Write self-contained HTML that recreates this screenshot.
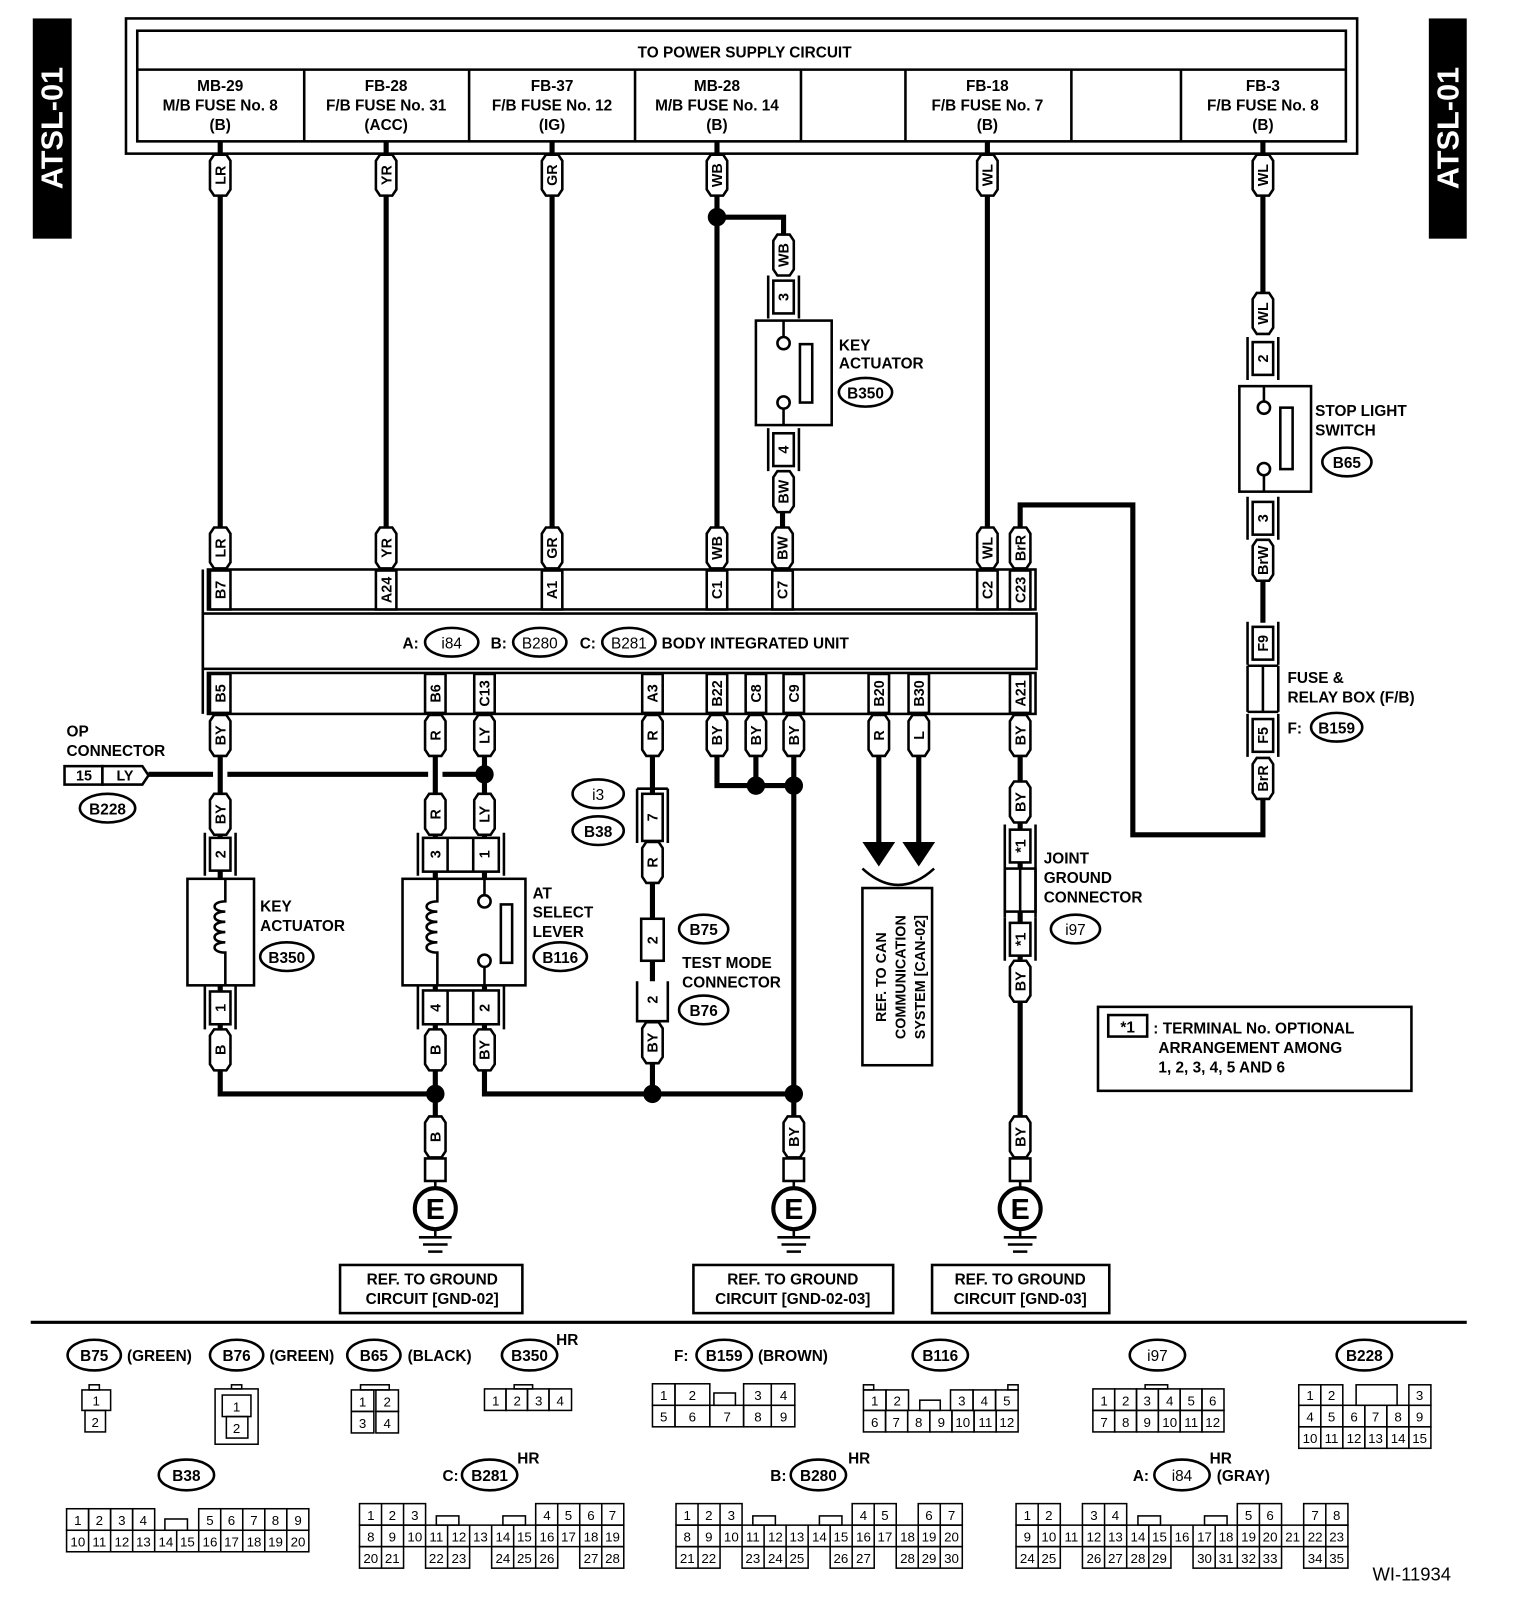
<!DOCTYPE html>
<html><head><meta charset="utf-8"><style>
html,body{margin:0;padding:0;background:#fff}
svg{display:block}
text{font-family:"Liberation Sans",Arial,sans-serif;fill:#000}
.b{font-weight:bold;font-size:15px}
.r{font-weight:bold;font-size:14px;text-anchor:middle}
.c{font-size:13px;text-anchor:middle}
.m{text-anchor:middle}
.w{fill:none;stroke:#000;stroke-width:5}
.k{fill:none;stroke:#000;stroke-width:2.5}
.k[fill="#fff"]{fill:#fff}
.g rect{fill:none;stroke:#000;stroke-width:1.5}
</style></head><body>
<svg width="1520" height="1604" viewBox="0 0 1484 1566" preserveAspectRatio="none" xmlns="http://www.w3.org/2000/svg">
<defs>
<symbol id="pl" overflow="visible"><path d="M-10,-14 L-6,-20 H6 L10,-14 V14 L6,20 H-6 L-10,14Z" fill="#fff" stroke="#000" stroke-width="2.5"/></symbol>
<symbol id="cn" overflow="visible"><rect x="-10" y="-16" width="20" height="32" fill="#fff" stroke="#000" stroke-width="2.5"/><path d="M-15,-21V21M15,-21V21" stroke="#000" stroke-width="2.5"/></symbol>
<symbol id="pin" overflow="visible"><rect x="-10" y="-19" width="20" height="38" fill="#fff" stroke="#000" stroke-width="2.5"/></symbol>
</defs>

<!-- ATSL tabs -->
<rect x="32" y="18" width="38" height="215" fill="#000"/>
<text transform="translate(61,125) rotate(-90)" class="m" style="font-size:30px;fill:#fff;font-weight:bold">ATSL-01</text>
<rect x="1395" y="18" width="37" height="215" fill="#000"/>
<text transform="translate(1424,125) rotate(-90)" class="m" style="font-size:30px;fill:#fff;font-weight:bold">ATSL-01</text>

<!-- power supply box -->
<rect x="123" y="18" width="1202" height="132" class="k" stroke-width="3"/>
<rect x="134" y="30" width="1180" height="108" class="k"/>
<line x1="134" y1="68" x2="1314" y2="68" class="k"/>
<path d="M297,68V138M458,68V138M620,68V138M782,68V138M884,68V138M1046,68V138M1153,68V138" class="k"/>
<text x="727" y="56" class="b m">TO POWER SUPPLY CIRCUIT</text>
<g class="b m" style="text-anchor:middle">
<text x="215" y="89">MB-29</text><text x="215" y="108">M/B FUSE No. 8</text><text x="215" y="127">(B)</text>
<text x="377" y="89">FB-28</text><text x="377" y="108">F/B FUSE No. 31</text><text x="377" y="127">(ACC)</text>
<text x="539" y="89">FB-37</text><text x="539" y="108">F/B FUSE No. 12</text><text x="539" y="127">(IG)</text>
<text x="700" y="89">MB-28</text><text x="700" y="108">M/B FUSE No. 14</text><text x="700" y="127">(B)</text>
<text x="964" y="89">FB-18</text><text x="964" y="108">F/B FUSE No. 7</text><text x="964" y="127">(B)</text>
<text x="1233" y="89">FB-3</text><text x="1233" y="108">F/B FUSE No. 8</text><text x="1233" y="127">(B)</text>
</g>

<!-- top wires -->
<path class="w" d="M215,138V515M377,138V515M539,138V515M700,138V515M964,138V515M1233,138V286"/>
<path class="w" d="M700,212H765V228"/>
<path class="w" d="M764,500V515"/>
<path class="w" d="M996,515V493H1106V815H1233V780"/>
<path class="w" d="M1233,568V608"/>
<circle cx="700" cy="212" r="9"/>

<!-- top pills -->
<use href="#pl" x="215" y="171"/><use href="#pl" x="377" y="171"/><use href="#pl" x="539" y="171"/><use href="#pl" x="700" y="171"/><use href="#pl" x="964" y="171"/><use href="#pl" x="1233" y="171"/>
<g class="r">
<text transform="translate(220,171) rotate(-90)">LR</text>
<text transform="translate(382,171) rotate(-90)">YR</text>
<text transform="translate(544,171) rotate(-90)">GR</text>
<text transform="translate(705,171) rotate(-90)">WB</text>
<text transform="translate(969,171) rotate(-90)">WL</text>
<text transform="translate(1238,171) rotate(-90)">WL</text>
</g>

<!-- key actuator B350 top -->
<use href="#pl" x="765" y="249"/><text transform="translate(770,249) rotate(-90)" class="r">WB</text>
<use href="#cn" x="765" y="290"/><text transform="translate(770,290) rotate(-90)" class="r">3</text>
<rect x="738" y="313" width="74" height="102" class="k"/>
<path d="M765,313V329M765,399V415" class="k"/>
<circle cx="765" cy="335" r="6" class="k" fill="#fff"/><circle cx="765" cy="393" r="6" class="k" fill="#fff"/>
<rect x="781" y="336" width="12" height="57" class="k"/>
<text x="819" y="342" class="b">KEY</text><text x="819" y="360" class="b">ACTUATOR</text>
<ellipse cx="845" cy="383" rx="26" ry="14" class="k"/><text x="845" y="389" class="b m">B350</text>
<use href="#cn" x="765" y="439"/><text transform="translate(770,439) rotate(-90)" class="r">4</text>
<use href="#pl" x="765" y="480"/><text transform="translate(770,480) rotate(-90)" class="r">BW</text>

<!-- stop light switch -->
<use href="#pl" x="1233" y="306"/><text transform="translate(1238,306) rotate(-90)" class="r">WL</text>
<use href="#cn" x="1233" y="350"/><text transform="translate(1238,350) rotate(-90)" class="r">2</text>
<rect x="1210" y="377" width="70" height="103" class="k"/>
<path d="M1234,377V392M1234,464V480" class="k"/>
<circle cx="1234" cy="398" r="6" class="k" fill="#fff"/><circle cx="1234" cy="458" r="6" class="k" fill="#fff"/>
<rect x="1250" y="398" width="12" height="60" class="k"/>
<text x="1284" y="406" class="b">STOP LIGHT</text><text x="1284" y="425" class="b">SWITCH</text>
<ellipse cx="1315" cy="451" rx="24" ry="14" class="k"/><text x="1315" y="457" class="b m">B65</text>
<use href="#cn" x="1233" y="506"/><text transform="translate(1238,506) rotate(-90)" class="r">3</text>
<use href="#pl" x="1233" y="547"/><text transform="translate(1238,547) rotate(-90)" class="r">BrW</text>

<!-- fuse & relay box -->
<use href="#cn" x="1233" y="628"/><text transform="translate(1238,628) rotate(-90)" class="r">F9</text>
<path d="M1218,650V695M1248,650V695M1233,650V695M1218,650H1248M1218,695H1248" class="k"/>
<use href="#cn" x="1233" y="718"/><text transform="translate(1238,718) rotate(-90)" class="r">F5</text>
<use href="#pl" x="1233" y="760"/><text transform="translate(1238,760) rotate(-90)" class="r">BrR</text>
<text x="1257" y="667" class="b">FUSE &amp;</text><text x="1257" y="686" class="b">RELAY BOX (F/B)</text>
<text x="1257" y="716" class="b">F:</text>
<ellipse cx="1305" cy="710" rx="25" ry="14" class="k"/><text x="1305" y="716" class="b m">B159</text>

<!-- body integrated unit -->
<rect x="203" y="556" width="808" height="39" class="k"/>
<rect x="198" y="599" width="814" height="54" class="k"/>
<rect x="203" y="657" width="808" height="40" class="k"/>
<path d="M198,556V697" class="k"/>
<g>
<use href="#pin" x="215" y="576"/><use href="#pin" x="377" y="576"/><use href="#pin" x="539" y="576"/><use href="#pin" x="700" y="576"/><use href="#pin" x="764" y="576"/><use href="#pin" x="964" y="576"/><use href="#pin" x="996" y="576"/>
<use href="#pin" x="215" y="677"/><use href="#pin" x="425" y="677"/><use href="#pin" x="473" y="677"/><use href="#pin" x="637" y="677"/><use href="#pin" x="700" y="677"/><use href="#pin" x="738" y="677"/><use href="#pin" x="775" y="677"/><use href="#pin" x="858" y="677"/><use href="#pin" x="897" y="677"/><use href="#pin" x="996" y="677"/>
</g>
<g class="r">
<text transform="translate(220,576) rotate(-90)">B7</text>
<text transform="translate(382,576) rotate(-90)">A24</text>
<text transform="translate(544,576) rotate(-90)">A1</text>
<text transform="translate(705,576) rotate(-90)">C1</text>
<text transform="translate(769,576) rotate(-90)">C7</text>
<text transform="translate(969,576) rotate(-90)">C2</text>
<text transform="translate(1001,576) rotate(-90)">C23</text>
<text transform="translate(220,677) rotate(-90)">B5</text>
<text transform="translate(430,677) rotate(-90)">B6</text>
<text transform="translate(478,677) rotate(-90)">C13</text>
<text transform="translate(642,677) rotate(-90)">A3</text>
<text transform="translate(705,677) rotate(-90)">B22</text>
<text transform="translate(743,677) rotate(-90)">C8</text>
<text transform="translate(780,677) rotate(-90)">C9</text>
<text transform="translate(863,677) rotate(-90)">B20</text>
<text transform="translate(902,677) rotate(-90)">B30</text>
<text transform="translate(1001,677) rotate(-90)">A21</text>
</g>
<!-- upper lower pills -->
<use href="#pl" x="215" y="535"/><use href="#pl" x="377" y="535"/><use href="#pl" x="539" y="535"/><use href="#pl" x="700" y="535"/><use href="#pl" x="764" y="535"/><use href="#pl" x="964" y="535"/><use href="#pl" x="996" y="535"/>
<g class="r">
<text transform="translate(220,535) rotate(-90)">LR</text>
<text transform="translate(382,535) rotate(-90)">YR</text>
<text transform="translate(544,535) rotate(-90)">GR</text>
<text transform="translate(705,535) rotate(-90)">WB</text>
<text transform="translate(769,535) rotate(-90)">BW</text>
<text transform="translate(969,535) rotate(-90)">WL</text>
<text transform="translate(1001,535) rotate(-90)">BrR</text>
</g>
<text x="393" y="633" class="b">A:</text>
<ellipse cx="441" cy="627" rx="26" ry="14" class="k"/><text x="441" y="633" class="b m" style="font-weight:normal">i84</text>
<text x="479" y="633" class="b">B:</text>
<ellipse cx="527" cy="627" rx="26" ry="14" class="k"/><text x="527" y="633" class="b m" style="font-weight:normal">B280</text>
<text x="566" y="633" class="b">C:</text>
<ellipse cx="614" cy="627" rx="26" ry="14" class="k"/><text x="614" y="633" class="b m" style="font-weight:normal">B281</text>
<text x="646" y="633" class="b">BODY INTEGRATED UNIT</text>

<!-- lower wiring -->
<path class="w" d="M215,738V1068H425M425,738V1090M473,738V1068H775M637,738V1068M700,738V767H775M738,738V767M775,738V1090M858,738V825M897,738V825M996,738V1090"/>
<path class="w" d="M145,756H208M222,756H418M432,756H473"/>
<circle cx="473" cy="756" r="9"/><circle cx="738" cy="767" r="9"/><circle cx="775" cy="767" r="9"/>
<circle cx="425" cy="1068" r="9"/><circle cx="637" cy="1068" r="9"/><circle cx="775" cy="1068" r="9"/>

<!-- OP connector -->
<rect x="63" y="748" width="37" height="18" fill="#fff" class="k"/><text x="82" y="762" class="b m" style="font-size:14px">15</text>
<path d="M100,748H139L145,757L139,766H100Z" fill="#fff" class="k"/><text x="122" y="762" class="b m" style="font-size:14px">LY</text>
<text x="65" y="719" class="b">OP</text><text x="65" y="738" class="b">CONNECTOR</text>
<ellipse cx="105" cy="789" rx="27" ry="14" class="k"/><text x="105" y="795" class="b m">B228</text>

<!-- lower pills row 718 -->
<use href="#pl" x="215" y="718"/><use href="#pl" x="425" y="718"/><use href="#pl" x="473" y="718"/><use href="#pl" x="637" y="718"/><use href="#pl" x="700" y="718"/><use href="#pl" x="738" y="718"/><use href="#pl" x="775" y="718"/><use href="#pl" x="858" y="718"/><use href="#pl" x="897" y="718"/><use href="#pl" x="996" y="718"/>
<g class="r">
<text transform="translate(220,718) rotate(-90)">BY</text>
<text transform="translate(430,718) rotate(-90)">R</text>
<text transform="translate(478,718) rotate(-90)">LY</text>
<text transform="translate(642,718) rotate(-90)">R</text>
<text transform="translate(705,718) rotate(-90)">BY</text>
<text transform="translate(743,718) rotate(-90)">BY</text>
<text transform="translate(780,718) rotate(-90)">BY</text>
<text transform="translate(863,718) rotate(-90)">R</text>
<text transform="translate(902,718) rotate(-90)">L</text>
<text transform="translate(1001,718) rotate(-90)">BY</text>
</g>

<!-- key actuator B350 lower -->
<use href="#pl" x="215" y="795"/><text transform="translate(220,795) rotate(-90)" class="r">BY</text>
<use href="#cn" x="215" y="834"/><text transform="translate(220,834) rotate(-90)" class="r">2</text>
<rect x="183" y="858" width="65" height="104" fill="#fff" class="k"/>
<path d="M220,858V880 c-14,0 -14,10 0,10 c-14,0 -14,10 0,10 c-14,0 -14,10 0,10 c-14,0 -14,10 0,10 c-14,0 -14,10 0,10 V962" class="k"/>
<text x="254" y="890" class="b">KEY</text><text x="254" y="909" class="b">ACTUATOR</text>
<ellipse cx="280" cy="934" rx="26" ry="14" class="k"/><text x="280" y="940" class="b m">B350</text>
<use href="#cn" x="215" y="984"/><text transform="translate(220,984) rotate(-90)" class="r">1</text>
<use href="#pl" x="215" y="1025"/><text transform="translate(220,1025) rotate(-90)" class="r">B</text>

<!-- AT select lever -->
<use href="#pl" x="425" y="795"/><text transform="translate(430,795) rotate(-90)" class="r">R</text>
<use href="#pl" x="473" y="795"/><text transform="translate(478,795) rotate(-90)" class="r">LY</text>
<rect x="413" y="818" width="74" height="33" fill="#fff" class="k"/><path d="M437,818V851M462,818V851M408,813V855M492,813V855" class="k"/>
<text transform="translate(430,834) rotate(-90)" class="r">3</text><text transform="translate(478,834) rotate(-90)" class="r">1</text>
<rect x="393" y="858" width="120" height="104" fill="#fff" class="k"/>
<path d="M427,858V880 c-14,0 -14,10 0,10 c-14,0 -14,10 0,10 c-14,0 -14,10 0,10 c-14,0 -14,10 0,10 c-14,0 -14,10 0,10 V962" class="k"/>
<path d="M473,858V874M473,944V962" class="k"/>
<circle cx="473" cy="880" r="6" class="k" fill="#fff"/><circle cx="473" cy="938" r="6" class="k" fill="#fff"/>
<rect x="489" y="883" width="11" height="57" class="k"/>
<text x="520" y="877" class="b">AT</text><text x="520" y="896" class="b">SELECT</text><text x="520" y="915" class="b">LEVER</text>
<ellipse cx="547" cy="934" rx="26" ry="14" class="k"/><text x="547" y="940" class="b m">B116</text>
<rect x="413" y="967" width="74" height="33" fill="#fff" class="k"/><path d="M437,967V1000M462,967V1000M408,963V1005M492,963V1005" class="k"/>
<text transform="translate(430,984) rotate(-90)" class="r">4</text><text transform="translate(478,984) rotate(-90)" class="r">2</text>
<use href="#pl" x="425" y="1025"/><text transform="translate(430,1025) rotate(-90)" class="r">B</text>
<use href="#pl" x="473" y="1025"/><text transform="translate(478,1025) rotate(-90)" class="r">BY</text>

<!-- test mode connector -->
<path d="M622,770V823M652,770V823M622,770H652" class="k"/>
<rect x="627" y="775" width="20" height="46" fill="#fff" class="k"/><text transform="translate(642,798) rotate(-90)" class="r">7</text>
<use href="#pl" x="637" y="842"/><text transform="translate(642,842) rotate(-90)" class="r">R</text>
<ellipse cx="584" cy="775" rx="25" ry="14" class="k"/><text x="584" y="781" class="b m" style="font-weight:normal">i3</text>
<ellipse cx="584" cy="811" rx="25" ry="14" class="k"/><text x="584" y="817" class="b m">B38</text>
<rect x="626" y="897" width="22" height="41" fill="#fff" class="k"/><text transform="translate(642,918) rotate(-90)" class="r">2</text>
<path d="M622,958V997H652V958" fill="#fff" class="k"/><text transform="translate(642,976) rotate(-90)" class="r">2</text>
<use href="#pl" x="637" y="1018"/><text transform="translate(642,1018) rotate(-90)" class="r">BY</text>
<ellipse cx="687" cy="907" rx="24" ry="14" class="k"/><text x="687" y="913" class="b m">B75</text>
<text x="666" y="945" class="b">TEST MODE</text><text x="666" y="964" class="b">CONNECTOR</text>
<ellipse cx="687" cy="986" rx="24" ry="14" class="k"/><text x="687" y="992" class="b m">B76</text>

<!-- CAN -->
<path d="M842,822H874L858,846ZM881,822H913L897,846Z"/>
<path d="M842,848 Q877,880 912,848" class="k"/>
<rect x="842" y="867" width="68" height="173" class="k"/>
<g class="b" style="font-size:14px;text-anchor:middle">
<text transform="translate(865,954) rotate(-90)">REF. TO CAN</text>
<text transform="translate(884,954) rotate(-90)">COMMUNICATION</text>
<text transform="translate(903,954) rotate(-90)">SYSTEM [CAN-02]</text>
</g>

<!-- joint ground connector -->
<use href="#pl" x="996" y="783"/><text transform="translate(1001,783) rotate(-90)" class="r">BY</text>
<use href="#cn" x="996" y="826"/><text transform="translate(1001,826) rotate(-90)" class="r">*1</text>
<rect x="981" y="848" width="30" height="42" fill="#fff" class="k"/>
<path d="M981,848V896M1011,848V896M996,848V890" class="k"/>
<use href="#cn" x="996" y="917"/><text transform="translate(1001,917) rotate(-90)" class="r">*1</text>
<use href="#pl" x="996" y="958"/><text transform="translate(1001,958) rotate(-90)" class="r">BY</text>
<text x="1019" y="843" class="b">JOINT</text><text x="1019" y="862" class="b">GROUND</text><text x="1019" y="881" class="b">CONNECTOR</text>
<ellipse cx="1050" cy="907" rx="24" ry="14" class="k"/><text x="1050" y="913" class="b m" style="font-weight:normal">i97</text>

<!-- note -->
<rect x="1072" y="983" width="306" height="82" class="k"/>
<rect x="1082" y="991" width="38" height="21" class="k"/><text x="1101" y="1008" class="b m">*1</text>
<text x="1126" y="1009" class="b">: TERMINAL No. OPTIONAL</text>
<text x="1131" y="1028" class="b">ARRANGEMENT AMONG</text>
<text x="1131" y="1047" class="b">1, 2, 3, 4, 5 AND 6</text>

<!-- grounds -->
<g>
<use href="#pl" x="425" y="1110"/><use href="#pl" x="775" y="1110"/><use href="#pl" x="996" y="1110"/>
<text transform="translate(430,1110) rotate(-90)" class="r">B</text>
<text transform="translate(780,1110) rotate(-90)" class="r">BY</text>
<text transform="translate(1001,1110) rotate(-90)" class="r">BY</text>
<rect x="415" y="1131" width="20" height="22" class="k" fill="#fff"/><rect x="765" y="1131" width="20" height="22" class="k" fill="#fff"/><rect x="986" y="1131" width="20" height="22" class="k" fill="#fff"/>
<path d="M425,1153V1160M775,1153V1160M996,1153V1160" class="k"/>
<circle cx="425" cy="1180" r="20" fill="#fff" stroke="#000" stroke-width="4"/>
<circle cx="775" cy="1180" r="20" fill="#fff" stroke="#000" stroke-width="4"/>
<circle cx="996" cy="1180" r="20" fill="#fff" stroke="#000" stroke-width="4"/>
<text x="425" y="1190" class="m" style="font-size:28px;font-weight:bold">E</text>
<text x="775" y="1190" class="m" style="font-size:28px;font-weight:bold">E</text>
<text x="996" y="1190" class="m" style="font-size:28px;font-weight:bold">E</text>
<path d="M425,1200V1208M409,1208H441M413,1215H437M418,1222H432 M775,1200V1208M759,1208H791M763,1215H787M768,1222H782 M996,1200V1208M980,1208H1012M984,1215H1008M989,1222H1003" class="k"/>
</g>
<rect x="332" y="1235" width="178" height="47" class="k"/>
<text x="422" y="1254" class="b m">REF. TO GROUND</text><text x="422" y="1273" class="b m">CIRCUIT [GND-02]</text>
<rect x="677" y="1235" width="195" height="47" class="k"/>
<text x="774" y="1254" class="b m">REF. TO GROUND</text><text x="774" y="1273" class="b m">CIRCUIT [GND-02-03]</text>
<rect x="910" y="1235" width="173" height="47" class="k"/>
<text x="996" y="1254" class="b m">REF. TO GROUND</text><text x="996" y="1273" class="b m">CIRCUIT [GND-03]</text>

<line x1="30" y1="1291" x2="1432" y2="1291" stroke="#000" stroke-width="3"/>

<!-- connector labels -->
<g class="k">
<ellipse cx="92" cy="1323" rx="26" ry="15"/><ellipse cx="231" cy="1323" rx="26" ry="15"/><ellipse cx="365" cy="1323" rx="26" ry="15"/><ellipse cx="517" cy="1323" rx="27" ry="15"/><ellipse cx="707" cy="1323" rx="27" ry="15"/><ellipse cx="918" cy="1323" rx="27" ry="15"/><ellipse cx="1130" cy="1323" rx="27" ry="15"/><ellipse cx="1332" cy="1323" rx="27" ry="15"/>
<ellipse cx="182" cy="1440" rx="27" ry="15"/><ellipse cx="478" cy="1440" rx="27" ry="15"/><ellipse cx="799" cy="1440" rx="27" ry="15"/><ellipse cx="1154" cy="1440" rx="27" ry="15"/>
</g>
<g class="b">
<text x="92" y="1329" class="m">B75</text><text x="124" y="1329">(GREEN)</text>
<text x="231" y="1329" class="m">B76</text><text x="263" y="1329">(GREEN)</text>
<text x="365" y="1329" class="m">B65</text><text x="398" y="1329">(BLACK)</text>
<text x="517" y="1329" class="m">B350</text><text x="543" y="1313">HR</text>
<text x="658" y="1329">F:</text><text x="707" y="1329" class="m">B159</text><text x="740" y="1329">(BROWN)</text>
<text x="918" y="1329" class="m">B116</text>
<text x="1130" y="1329" class="m" style="font-weight:normal">i97</text>
<text x="1332" y="1329" class="m">B228</text>
<text x="182" y="1446" class="m">B38</text>
<text x="432" y="1446">C:</text><text x="478" y="1446" class="m">B281</text><text x="505" y="1429">HR</text>
<text x="752" y="1446">B:</text><text x="799" y="1446" class="m">B280</text><text x="828" y="1429">HR</text>
<text x="1106" y="1446">A:</text><text x="1154" y="1446" class="m" style="font-weight:normal">i84</text><text x="1181" y="1429">HR</text><text x="1188" y="1446">(GRAY)</text>
</g>
<text x="1340" y="1543" style="font-size:18px">WI-11934</text>

<!-- connector grids -->
<g class="g">
<rect x="87" y="1352" width="10" height="5"/><rect x="80" y="1357" width="28" height="20"/><rect x="83" y="1377" width="20" height="21"/>
<rect x="210" y="1356" width="42" height="54"/><rect x="226" y="1352" width="10" height="4"/><rect x="217" y="1362" width="28" height="21"/><rect x="221" y="1383" width="21" height="21"/>
<rect x="352" y="1352" width="28" height="5"/><rect x="343" y="1357" width="22" height="21"/><rect x="367" y="1357" width="22" height="21"/><rect x="343" y="1378" width="22" height="21"/><rect x="367" y="1378" width="22" height="21"/>
<rect x="502" y="1352" width="18" height="4"/><rect x="473" y="1356" width="21" height="21"/><rect x="494" y="1356" width="21" height="21"/><rect x="515" y="1356" width="21" height="21"/><rect x="536" y="1356" width="22" height="21"/>
<rect x="637" y="1351" width="22" height="21"/><rect x="659" y="1351" width="34" height="21"/><rect x="697" y="1360" width="21" height="12"/><rect x="726" y="1351" width="27" height="21"/><rect x="753" y="1351" width="23" height="21"/>
<rect x="637" y="1372" width="22" height="21"/><rect x="659" y="1372" width="34" height="21"/><rect x="693" y="1372" width="33" height="21"/><rect x="726" y="1372" width="27" height="21"/><rect x="753" y="1372" width="23" height="21"/>
<rect x="843" y="1352" width="10" height="5"/><rect x="984" y="1352" width="10" height="5"/>
<rect x="843" y="1357" width="22" height="20"/><rect x="865" y="1357" width="22" height="20"/><rect x="898" y="1367" width="20" height="10"/><rect x="928" y="1357" width="22" height="20"/><rect x="950" y="1357" width="22" height="20"/><rect x="972" y="1357" width="22" height="20"/>
<rect x="843" y="1377" width="21.6" height="21"/><rect x="864.6" y="1377" width="21.6" height="21"/><rect x="886.2" y="1377" width="21.6" height="21"/><rect x="907.8" y="1377" width="21.6" height="21"/><rect x="929.4" y="1377" width="21.6" height="21"/><rect x="951" y="1377" width="21.6" height="21"/><rect x="972.6" y="1377" width="21.4" height="21"/>
<rect x="1118" y="1352" width="22" height="4"/>
<rect x="1067" y="1356" width="21.3" height="21"/><rect x="1088.3" y="1356" width="21.3" height="21"/><rect x="1109.6" y="1356" width="21.3" height="21"/><rect x="1130.9" y="1356" width="21.3" height="21"/><rect x="1152.2" y="1356" width="21.3" height="21"/><rect x="1173.5" y="1356" width="21.5" height="21"/>
<rect x="1067" y="1377" width="21.3" height="21"/><rect x="1088.3" y="1377" width="21.3" height="21"/><rect x="1109.6" y="1377" width="21.3" height="21"/><rect x="1130.9" y="1377" width="21.3" height="21"/><rect x="1152.2" y="1377" width="21.3" height="21"/><rect x="1173.5" y="1377" width="21.5" height="21"/>
<rect x="1268" y="1352" width="21.5" height="20"/><rect x="1289.5" y="1352" width="21.5" height="20"/><rect x="1324" y="1352" width="40" height="20"/><rect x="1375.5" y="1352" width="21.5" height="20"/>
<rect x="1268" y="1372" width="21.5" height="21"/><rect x="1289.5" y="1372" width="21.5" height="21"/><rect x="1311" y="1372" width="21.5" height="21"/><rect x="1332.5" y="1372" width="21.5" height="21"/><rect x="1354" y="1372" width="21.5" height="21"/><rect x="1375.5" y="1372" width="21.5" height="21"/>
<rect x="1268" y="1393" width="21.5" height="21"/><rect x="1289.5" y="1393" width="21.5" height="21"/><rect x="1311" y="1393" width="21.5" height="21"/><rect x="1332.5" y="1393" width="21.5" height="21"/><rect x="1354" y="1393" width="21.5" height="21"/><rect x="1375.5" y="1393" width="21.5" height="21"/>
<rect x="65" y="1473" width="21.5" height="21"/><rect x="86.5" y="1473" width="21.5" height="21"/><rect x="108" y="1473" width="21.5" height="21"/><rect x="129.5" y="1473" width="21.5" height="21"/>
<rect x="161" y="1483" width="22" height="11"/>
<rect x="194" y="1473" width="21.5" height="21"/><rect x="215.5" y="1473" width="21.5" height="21"/><rect x="237" y="1473" width="21.5" height="21"/><rect x="258.5" y="1473" width="21.5" height="21"/><rect x="280" y="1473" width="21.5" height="21"/>
<rect x="65" y="1494" width="236.5" height="21"/>
<path d="M86.5,1494V1515M108,1494V1515M129.5,1494V1515M151,1494V1515M172.5,1494V1515M194,1494V1515M215.5,1494V1515M237,1494V1515M258.5,1494V1515M280,1494V1515" stroke="#000" stroke-width="1.5"/>
<rect x="351" y="1468" width="64.5" height="21"/><path d="M372.5,1468V1489M394,1468V1489" stroke="#000" stroke-width="1.5"/>
<rect x="426" y="1480" width="22" height="9"/><rect x="491" y="1480" width="22" height="9"/>
<rect x="523" y="1468" width="86" height="21"/><path d="M544.5,1468V1489M566,1468V1489M587.5,1468V1489" stroke="#000" stroke-width="1.5"/>
<rect x="351" y="1489" width="258" height="21"/><path d="M372.5,1489V1510M394,1489V1510M415.5,1489V1510M437,1489V1510M458.5,1489V1510M480,1489V1510M501.5,1489V1510M523,1489V1510M544.5,1489V1510M566,1489V1510M587.5,1489V1510" stroke="#000" stroke-width="1.5"/>
<rect x="351" y="1510" width="43" height="21"/><rect x="415.5" y="1510" width="43" height="21"/><rect x="480" y="1510" width="64.5" height="21"/><rect x="566" y="1510" width="43" height="21"/>
<path d="M372.5,1510V1531M437,1510V1531M501.5,1510V1531M523,1510V1531M587.5,1510V1531" stroke="#000" stroke-width="1.5"/>
<rect x="660" y="1468" width="64.5" height="21"/><path d="M681.5,1468V1489M703,1468V1489" stroke="#000" stroke-width="1.5"/>
<rect x="735" y="1480" width="22" height="9"/><rect x="800" y="1480" width="22" height="9"/>
<rect x="832" y="1468" width="43" height="21"/><path d="M853.5,1468V1489" stroke="#000" stroke-width="1.5"/>
<rect x="896.5" y="1468" width="43" height="21"/><path d="M918,1468V1489" stroke="#000" stroke-width="1.5"/>
<rect x="660" y="1489" width="279.5" height="21"/><path d="M681.5,1489V1510M703,1489V1510M724.5,1489V1510M746,1489V1510M767.5,1489V1510M789,1489V1510M810.5,1489V1510M832,1489V1510M853.5,1489V1510M875,1489V1510M896.5,1489V1510M918,1489V1510" stroke="#000" stroke-width="1.5"/>
<rect x="660" y="1510" width="43" height="21"/><rect x="724.5" y="1510" width="64.5" height="21"/><rect x="810.5" y="1510" width="43" height="21"/><rect x="875" y="1510" width="64.5" height="21"/>
<path d="M681.5,1510V1531M746,1510V1531M767.5,1510V1531M832,1510V1531M896.5,1510V1531M918,1510V1531" stroke="#000" stroke-width="1.5"/>
<rect x="992" y="1468" width="43.2" height="21"/><path d="M1013.6,1468V1489" stroke="#000" stroke-width="1.5"/>
<rect x="1056.8" y="1468" width="43.2" height="21"/><path d="M1078.4,1468V1489" stroke="#000" stroke-width="1.5"/>
<rect x="1111" y="1480" width="22" height="9"/><rect x="1176" y="1480" width="22" height="9"/>
<rect x="1208" y="1468" width="43.2" height="21"/><path d="M1229.6,1468V1489" stroke="#000" stroke-width="1.5"/>
<rect x="1272.8" y="1468" width="43.2" height="21"/><path d="M1294.4,1468V1489" stroke="#000" stroke-width="1.5"/>
<rect x="992" y="1489" width="324" height="21"/><path d="M1013.6,1489V1510M1035.2,1489V1510M1056.8,1489V1510M1078.4,1489V1510M1100,1489V1510M1121.6,1489V1510M1143.2,1489V1510M1164.8,1489V1510M1186.4,1489V1510M1208,1489V1510M1229.6,1489V1510M1251.2,1489V1510M1272.8,1489V1510M1294.4,1489V1510" stroke="#000" stroke-width="1.5"/>
<rect x="992" y="1510" width="43.2" height="21"/><rect x="1056.8" y="1510" width="86.4" height="21"/><rect x="1164.8" y="1510" width="86.4" height="21"/><rect x="1272.8" y="1510" width="43.2" height="21"/>
<path d="M1013.6,1510V1531M1078.4,1510V1531M1100,1510V1531M1121.6,1510V1531M1186.4,1510V1531M1208,1510V1531M1229.6,1510V1531M1294.4,1510V1531" stroke="#000" stroke-width="1.5"/>
</g>
<g class="c">
<text x="94" y="1372">1</text><text x="93" y="1393">2</text>
<text x="231" y="1378">1</text><text x="231" y="1399">2</text>
<text x="354" y="1373">1</text><text x="378" y="1373">2</text><text x="354" y="1394">3</text><text x="378" y="1394">4</text>
<text x="484" y="1372">1</text><text x="505" y="1372">2</text><text x="526" y="1372">3</text><text x="547" y="1372">4</text>
<text x="648" y="1367">1</text><text x="676" y="1367">2</text><text x="740" y="1367">3</text><text x="765" y="1367">4</text>
<text x="648" y="1388">5</text><text x="676" y="1388">6</text><text x="710" y="1388">7</text><text x="740" y="1388">8</text><text x="765" y="1388">9</text>
<text x="854" y="1372">1</text><text x="876" y="1372">2</text><text x="939" y="1372">3</text><text x="961" y="1372">4</text><text x="983" y="1372">5</text>
<text x="854" y="1393">6</text><text x="875" y="1393">7</text><text x="897" y="1393">8</text><text x="919" y="1393">9</text><text x="940" y="1393">10</text><text x="962" y="1393">11</text><text x="983" y="1393">12</text>
<text x="1078" y="1372">1</text><text x="1099" y="1372">2</text><text x="1120" y="1372">3</text><text x="1142" y="1372">4</text><text x="1163" y="1372">5</text><text x="1184" y="1372">6</text>
<text x="1078" y="1393">7</text><text x="1099" y="1393">8</text><text x="1120" y="1393">9</text><text x="1142" y="1393">10</text><text x="1163" y="1393">11</text><text x="1184" y="1393">12</text>
<text x="1279" y="1367">1</text><text x="1300" y="1367">2</text><text x="1386" y="1367">3</text>
<text x="1279" y="1388">4</text><text x="1300" y="1388">5</text><text x="1322" y="1388">6</text><text x="1343" y="1388">7</text><text x="1365" y="1388">8</text><text x="1386" y="1388">9</text>
<text x="1279" y="1409">10</text><text x="1300" y="1409">11</text><text x="1322" y="1409">12</text><text x="1343" y="1409">13</text><text x="1365" y="1409">14</text><text x="1386" y="1409">15</text>
<text x="76" y="1489">1</text><text x="97" y="1489">2</text><text x="119" y="1489">3</text><text x="140" y="1489">4</text><text x="205" y="1489">5</text><text x="226" y="1489">6</text><text x="248" y="1489">7</text><text x="269" y="1489">8</text><text x="291" y="1489">9</text>
<text x="76" y="1510">10</text><text x="97" y="1510">11</text><text x="119" y="1510">12</text><text x="140" y="1510">13</text><text x="162" y="1510">14</text><text x="183" y="1510">15</text><text x="205" y="1510">16</text><text x="226" y="1510">17</text><text x="248" y="1510">18</text><text x="269" y="1510">19</text><text x="291" y="1510">20</text>
<text x="362" y="1484">1</text><text x="383" y="1484">2</text><text x="405" y="1484">3</text><text x="534" y="1484">4</text><text x="555" y="1484">5</text><text x="577" y="1484">6</text><text x="598" y="1484">7</text>
<text x="362" y="1505">8</text><text x="383" y="1505">9</text><text x="405" y="1505">10</text><text x="426" y="1505">11</text><text x="448" y="1505">12</text><text x="469" y="1505">13</text><text x="491" y="1505">14</text><text x="512" y="1505">15</text><text x="534" y="1505">16</text><text x="555" y="1505">17</text><text x="577" y="1505">18</text><text x="598" y="1505">19</text>
<text x="362" y="1526">20</text><text x="383" y="1526">21</text><text x="426" y="1526">22</text><text x="448" y="1526">23</text><text x="491" y="1526">24</text><text x="512" y="1526">25</text><text x="534" y="1526">26</text><text x="577" y="1526">27</text><text x="598" y="1526">28</text>
<text x="671" y="1484">1</text><text x="692" y="1484">2</text><text x="714" y="1484">3</text><text x="843" y="1484">4</text><text x="864" y="1484">5</text><text x="907" y="1484">6</text><text x="929" y="1484">7</text>
<text x="671" y="1505">8</text><text x="692" y="1505">9</text><text x="714" y="1505">10</text><text x="735" y="1505">11</text><text x="757" y="1505">12</text><text x="778" y="1505">13</text><text x="800" y="1505">14</text><text x="821" y="1505">15</text><text x="843" y="1505">16</text><text x="864" y="1505">17</text><text x="886" y="1505">18</text><text x="907" y="1505">19</text><text x="929" y="1505">20</text>
<text x="671" y="1526">21</text><text x="692" y="1526">22</text><text x="735" y="1526">23</text><text x="757" y="1526">24</text><text x="778" y="1526">25</text><text x="821" y="1526">26</text><text x="843" y="1526">27</text><text x="886" y="1526">28</text><text x="907" y="1526">29</text><text x="929" y="1526">30</text>
<text x="1003" y="1484">1</text><text x="1024" y="1484">2</text><text x="1068" y="1484">3</text><text x="1089" y="1484">4</text><text x="1219" y="1484">5</text><text x="1240" y="1484">6</text><text x="1284" y="1484">7</text><text x="1305" y="1484">8</text>
<text x="1003" y="1505">9</text><text x="1024" y="1505">10</text><text x="1046" y="1505">11</text><text x="1068" y="1505">12</text><text x="1089" y="1505">13</text><text x="1111" y="1505">14</text><text x="1132" y="1505">15</text><text x="1154" y="1505">16</text><text x="1176" y="1505">17</text><text x="1197" y="1505">18</text><text x="1219" y="1505">19</text><text x="1240" y="1505">20</text><text x="1262" y="1505">21</text><text x="1284" y="1505">22</text><text x="1305" y="1505">23</text>
<text x="1003" y="1526">24</text><text x="1024" y="1526">25</text><text x="1068" y="1526">26</text><text x="1089" y="1526">27</text><text x="1111" y="1526">28</text><text x="1132" y="1526">29</text><text x="1176" y="1526">30</text><text x="1197" y="1526">31</text><text x="1219" y="1526">32</text><text x="1240" y="1526">33</text><text x="1284" y="1526">34</text><text x="1305" y="1526">35</text>
</g>
</svg>
</body></html>
